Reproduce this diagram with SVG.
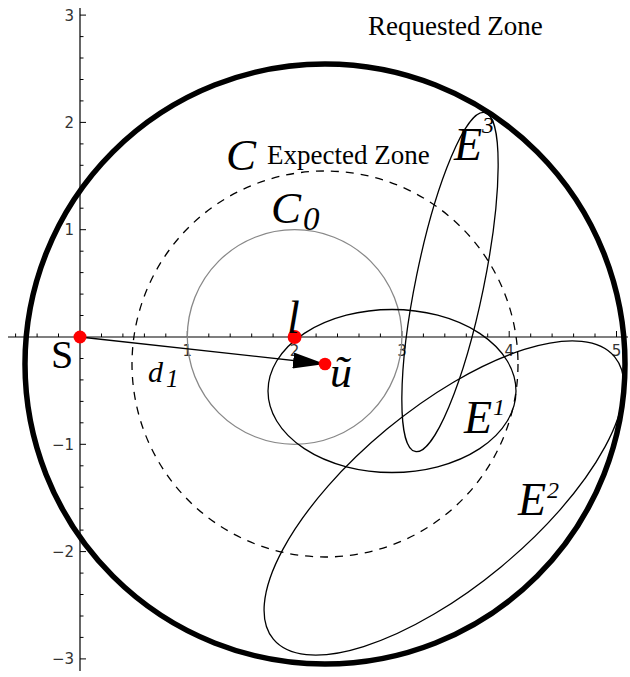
<svg xmlns="http://www.w3.org/2000/svg" width="630" height="677" viewBox="0 0 630 677">
<style>
.ax{stroke:#000;stroke-width:1.2;fill:none}
.tk{stroke:#000;stroke-width:1;fill:none}
.lab{font-family:"DejaVu Sans",sans-serif;font-size:15px;fill:#333}
.ell{stroke:#000;stroke-width:1.3;fill:none}
.dot{fill:#ff0000}
.rm{font-family:"Liberation Serif","Times New Roman",serif;fill:#000}
.it{font-family:"Liberation Serif","Times New Roman",serif;font-style:italic;fill:#000}
</style>
<defs>
<marker id="ah" markerUnits="userSpaceOnUse" markerWidth="32" markerHeight="16" refX="32" refY="8" orient="auto">
<path d="M0,0 L32,8 L0,16 z" fill="#000"/>
</marker>
</defs>
<rect width="630" height="677" fill="#fff"/>
<g id="axes">
<path class="ax" d="M8,337 H628 M80,8 V671"/>
<path class="tk" d="M80,15.1h6 M80,122.4h6 M80,229.7h6 M80,444.3h6 M80,551.6h6 M80,658.9h6
M80,36.6h3.5 M80,58h3.5 M80,79.5h3.5 M80,100.9h3.5 M80,143.9h3.5 M80,165.3h3.5 M80,186.8h3.5 M80,208.2h3.5
M80,251.2h3.5 M80,272.6h3.5 M80,294.1h3.5 M80,315.5h3.5 M80,358.5h3.5 M80,379.9h3.5 M80,401.4h3.5 M80,422.8h3.5
M80,465.8h3.5 M80,487.2h3.5 M80,508.7h3.5 M80,530.1h3.5 M80,573.1h3.5 M80,594.5h3.5 M80,616h3.5 M80,637.4h3.5"/>
<path class="tk" d="M187.3,337v-6 M294.6,337v-6 M401.9,337v-6 M509.2,337v-6 M616.5,337v-6
M15.6,337v-3.5 M37.1,337v-3.5 M58.5,337v-3.5 M101.5,337v-3.5 M122.9,337v-3.5 M144.4,337v-3.5 M165.8,337v-3.5
M208.8,337v-3.5 M230.2,337v-3.5 M251.7,337v-3.5 M273.1,337v-3.5 M316.1,337v-3.5 M337.5,337v-3.5 M359,337v-3.5 M380.4,337v-3.5
M423.4,337v-3.5 M444.8,337v-3.5 M466.3,337v-3.5 M487.7,337v-3.5 M530.7,337v-3.5 M552.1,337v-3.5 M573.6,337v-3.5 M595,337v-3.5"/>
<g class="lab" text-anchor="end">
<text x="74" y="20.5">3</text>
<text x="74" y="127.8">2</text>
<text x="74" y="235.1">1</text>
<text x="74" y="449.7">−1</text>
<text x="74" y="557">−2</text>
<text x="74" y="664.3">−3</text>
</g>
<g class="lab" text-anchor="middle">
<text x="187.3" y="356">1</text>
<text x="294.6" y="356">2</text>
<text x="401.9" y="356">3</text>
<text x="509.2" y="356">4</text>
<text x="616.5" y="356">5</text>
</g>
</g>
<g id="expected-zone">
<circle cx="325" cy="364" r="193" fill="none" stroke="#000" stroke-width="1.3" stroke-dasharray="8 7"/>
<text class="it" x="226" y="170" font-size="45">C</text>
<text class="rm" x="267" y="164" font-size="27">Expected Zone</text>
</g>
<g id="C0">
<circle cx="294.6" cy="337" r="107.3" fill="none" stroke="#888" stroke-width="1.3"/>
<text class="it" x="271" y="223" font-size="45">C</text>
<text class="it" x="303" y="230" font-size="33">0</text>
</g>
<g id="E1">
<ellipse class="ell" cx="392" cy="391" rx="124" ry="81.5"/>
<text class="it" x="464" y="433" font-size="46">E</text>
<text class="it" x="493" y="415" font-size="24">1</text>
</g>
<g id="E2">
<ellipse class="ell" cx="444" cy="498" rx="221.5" ry="89.4" transform="rotate(-39.6 444 498)"/>
<text class="it" x="518" y="515" font-size="46">E</text>
<text class="it" x="547" y="498" font-size="24">2</text>
</g>
<g id="E3">
<ellipse class="ell" cx="450" cy="282" rx="34" ry="173" transform="rotate(11.6 450 282)"/>
<text class="it" x="454" y="160" font-size="46">E</text>
<text class="it" x="482" y="133" font-size="24">3</text>
</g>
<g id="connectors">
<line x1="80" y1="337" x2="325" y2="364" stroke="#000" stroke-width="1.3" marker-end="url(#ah)"/>
<text class="it" x="148" y="382" font-size="30">d</text>
<text class="it" x="166" y="387" font-size="25">1</text>
</g>
<g id="S">
<circle class="dot" cx="80" cy="337" r="6.5"/>
<text class="rm" x="51" y="368" font-size="40">S</text>
</g>
<g id="l">
<circle class="dot" cx="294.6" cy="337" r="7"/>
<text class="it" x="287" y="333" font-size="46">l</text>
</g>
<g id="u">
<circle class="dot" cx="325" cy="364" r="6.3"/>
<text class="it" x="330" y="387" font-size="44">ũ</text>
</g>
<g id="requested-zone">
<circle cx="325" cy="364" r="300" fill="none" stroke="#000" stroke-width="5.5"/>
<text class="rm" x="368" y="35" font-size="27">Requested Zone</text>
</g>
</svg>
